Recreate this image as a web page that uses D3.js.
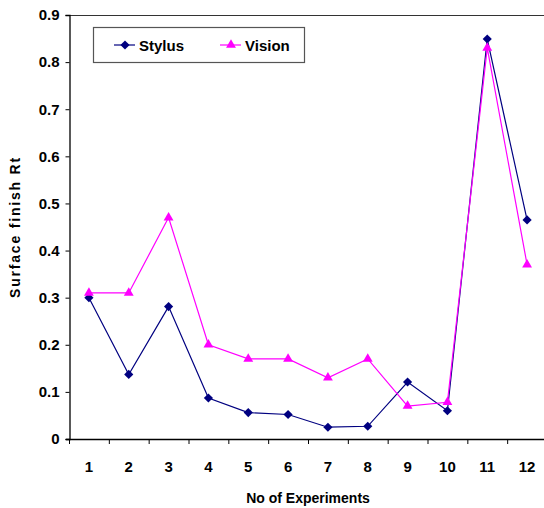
<!DOCTYPE html>
<html>
<head>
<meta charset="utf-8">
<script src="https://cdn.jsdelivr.net/npm/d3@7/dist/d3.min.js"></script>
<style>
  html, body { margin: 0; padding: 0; background: #fff; }
  svg { display: block; }
  text { font-family: "Liberation Sans", Arial, sans-serif; font-weight: bold; fill: #000; }
</style>
</head>
<body>
<svg id="chart" width="544" height="508"></svg>
<script>
// Experiment numbers (categories)
const experiments = ["1","2","3","4","5","6","7","8","9","10","11","12"];
// Surface finish Rt measured by each method
const stylus = [0.30, 0.137, 0.281, 0.087, 0.056, 0.052, 0.025, 0.027, 0.121, 0.060, 0.849, 0.465];
const vision = [0.31, 0.31, 0.47, 0.20, 0.17, 0.17, 0.13, 0.17, 0.07, 0.078, 0.83, 0.37];
// Y axis ticks and their labels
const yTicks = [0, 0.1, 0.2, 0.3, 0.4, 0.5, 0.6, 0.7, 0.8, 0.9];
const yTickLabels = ["0", "0.1", "0.2", "0.3", "0.4", "0.5", "0.6", "0.7", "0.8", "0.9"];
const seriesNames = ["Stylus", "Vision"];

const svg = d3.select("#chart");
const plotLeft = 69, plotRight = 547, plotTop = 15, plotBottom = 439;

const x = d3.scaleBand().domain(experiments).range([plotLeft, plotRight]).padding(0);
const y = d3.scaleLinear().domain([0, 0.9]).range([plotBottom, plotTop]);

// plot area top border
svg.append("line")
  .attr("x1", plotLeft).attr("x2", plotRight)
  .attr("y1", plotTop + 0.5).attr("y2", plotTop + 0.5)
  .attr("stroke", "#333").attr("stroke-width", 1);

// Y axis
const yAxis = d3.axisLeft(y)
  .tickValues(yTicks)
  .tickFormat((d, i) => yTickLabels[i])
  .tickSize(4)
  .tickPadding(6);
const gy = svg.append("g").attr("transform", `translate(${plotLeft + 0.5},0)`).call(yAxis);
gy.select(".domain").attr("stroke", "#000").attr("stroke-width", 1.3);
gy.selectAll(".tick line").attr("stroke", "#000");
gy.selectAll(".tick text").attr("font-size", 15).attr("fill", "#000")
  .style("font-family", "'Liberation Sans', Arial, sans-serif").style("font-weight", "bold");

// X axis: labels at band centres, tick marks at band edges
const gx = svg.append("g").attr("transform", `translate(0,${plotBottom + 0.5})`);
gx.append("line")
  .attr("x1", plotLeft - 3).attr("x2", plotRight)
  .attr("stroke", "#000").attr("stroke-width", 1.3);
gx.selectAll("line.tk")
  .data(experiments)
  .join("line")
  .attr("class", "tk")
  .attr("x1", d => x(d) + 0.5).attr("x2", d => x(d) + 0.5)
  .attr("y1", 0).attr("y2", 4.5)
  .attr("stroke", "#000");
gx.selectAll("text")
  .data(experiments)
  .join("text")
  .attr("x", d => x(d) + x.bandwidth() / 2)
  .attr("y", 32)
  .attr("text-anchor", "middle")
  .attr("font-size", 15)
  .text(d => d);

// Axis titles
svg.append("text")
  .attr("x", 308).attr("y", 503)
  .attr("text-anchor", "middle")
  .attr("font-size", 14)
  .text("No of Experiments");
svg.append("text")
  .attr("transform", `translate(20,${(plotTop + plotBottom) / 2}) rotate(-90)`)
  .attr("text-anchor", "middle")
  .attr("font-size", 14)
  .attr("letter-spacing", 1.8)
  .text("Surface finish Rt");

const cx = (d, i) => x(experiments[i]) + x.bandwidth() / 2;
const line = d3.line().x((d, i) => cx(d, i)).y(d => y(d));

// square-ish diamond marker (about 9px across)
const squareDiamond = {
  draw(ctx, size) {
    const r = Math.sqrt(size / 2);
    ctx.moveTo(0, -r);
    ctx.lineTo(r, 0);
    ctx.lineTo(0, r);
    ctx.lineTo(-r, 0);
    ctx.closePath();
  }
};
const diamond = d3.symbol().type(squareDiamond).size(42);
const triangle = d3.symbol().type(d3.symbolTriangle).size(42);

function drawSeries(values, color, sym) {
  svg.append("path")
    .datum(values)
    .attr("d", line)
    .attr("fill", "none")
    .attr("stroke", color)
    .attr("stroke-width", 1.2);
  svg.append("g").selectAll("path")
    .data(values)
    .join("path")
    .attr("d", sym)
    .attr("transform", (d, i) => `translate(${cx(d, i)},${y(d)})`)
    .attr("fill", color);
}

drawSeries(stylus, "#000080", diamond);
drawSeries(vision, "#FF00FF", triangle);

// Legend
const lg = svg.append("g");
lg.append("rect")
  .attr("x", 93.5).attr("y", 27.5).attr("width", 211).attr("height", 35)
  .attr("fill", "#fff").attr("stroke", "#555").attr("stroke-width", 1.2);
const legendItems = [
  { name: seriesNames[0], color: "#000080", sym: diamond, x0: 114 },
  { name: seriesNames[1], color: "#FF00FF", sym: triangle, x0: 220 }
];
legendItems.forEach(it => {
  lg.append("line")
    .attr("x1", it.x0).attr("x2", it.x0 + 21)
    .attr("y1", 45).attr("y2", 45)
    .attr("stroke", it.color).attr("stroke-width", 1.2);
  lg.append("path")
    .attr("d", it.sym)
    .attr("transform", `translate(${it.x0 + 11},45)`)
    .attr("fill", it.color);
  lg.append("text")
    .attr("x", it.x0 + 25).attr("y", 51)
    .attr("font-size", 15)
    .text(it.name);
});
</script>
</body>
</html>
